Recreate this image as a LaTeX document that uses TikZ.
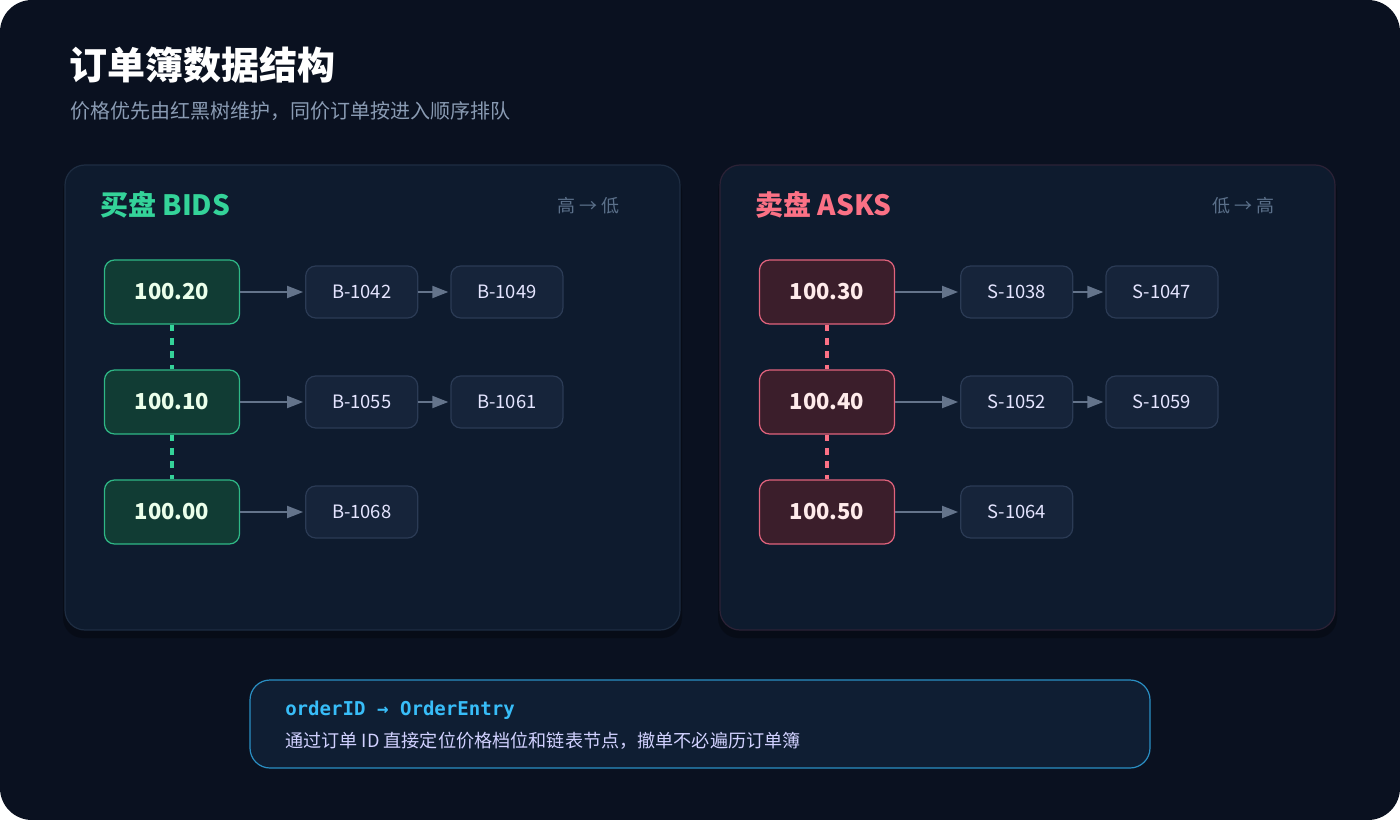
\documentclass[tikz,border=0pt]{standalone}
\usepackage{fontspec}
\setmainfont{Noto Sans CJK SC}
\setmonofont{DejaVu Sans Mono}
\usetikzlibrary{positioning,arrows.meta}

\definecolor{pagebg}{HTML}{0A1120}
\definecolor{panelbg}{HTML}{0E1B2E}
\definecolor{panelline}{HTML}{1E2D42}
\definecolor{askline}{HTML}{2C2236}
\definecolor{orderbg}{HTML}{16243A}
\definecolor{orderline}{HTML}{2B3B55}
\definecolor{bidbg}{HTML}{113C34}
\definecolor{bidline}{HTML}{2FB886}
\definecolor{bidgreen}{HTML}{34D399}
\definecolor{askbg}{HTML}{3B1E2B}
\definecolor{askline2}{HTML}{E0627C}
\definecolor{askpink}{HTML}{FB7185}
\definecolor{linkgray}{HTML}{64748B}
\definecolor{dirgray}{HTML}{5B708A}
\definecolor{subgray}{HTML}{8A9BB3}
\definecolor{notebg}{HTML}{0F1E33}
\definecolor{noteline}{HTML}{2A8FC4}
\definecolor{notesky}{HTML}{38BDF8}

\begin{document}
\begin{tikzpicture}[x=0.75pt,y=-0.75pt,>={Triangle[length=12pt,width=9pt]},node distance=48.75pt,
    price node/.style={rounded corners=7.5pt,minimum width=101.25pt,minimum height=48pt,inner sep=0pt,line width=0.9pt,font=\bfseries\fontsize{16.5}{18}\selectfont},
    bid node/.style={price node,draw=bidline,fill=bidbg,text=green!8!white},
    ask node/.style={price node,draw=askline2,fill=askbg,text=red!8!white},
    order node/.style={rounded corners=7.5pt,minimum width=84pt,minimum height=39pt,inner sep=0pt,line width=0.9pt,draw=orderline,fill=orderbg,text=white!90!blue,font=\fontsize{13.8}{15}\selectfont},
    link/.style={draw,->,color=linkgray,line width=1.5pt,shorten >=1.5pt},
    level dash/.style={draw,-,line width=2.3pt,dash pattern=on 5pt off 5pt},
    panel/.style={rounded corners=15pt,fill=panelbg,line width=0.9pt},
    head text/.style={anchor=west,inner sep=0pt,font=\bfseries\fontsize{21}{24}\selectfont},
    dir text/.style={anchor=east,inner sep=0pt,text=dirgray,font=\fontsize{13.5}{15}\selectfont}]

    \useasboundingbox (0,0) rectangle (1400,820);
    \fill[white] (0,0) rectangle (1400,820);
    \fill[pagebg,rounded corners=24pt] (0,0) rectangle (1400,820);

    % title
    \node[anchor=west,inner sep=0pt,text=white,font=\bfseries\fontsize{28.5}{32}\selectfont] (title) at (69,65) {订单簿数据结构};
    \node[anchor=west,inner sep=0pt,text=subgray,font=\fontsize{15}{17}\selectfont] (subtitle) at (70,111) {价格优先由红黑树维护，同价订单按进入顺序排队};

    % panels
    \fill[black,opacity=0.25,rounded corners=15pt] (63,171) rectangle (682,638);
    \fill[black,opacity=0.25,rounded corners=15pt] (718,171) rectangle (1337,638);
    \draw[panel,draw=panelline] (65,165) rectangle (680,630);
    \draw[panel,draw=askline] (720,165) rectangle (1335,630);

    \node[head text,text=bidgreen] (bidhead) at (100,205) {买盘 BIDS};
    \node[dir text] (biddir) at (620,206) {高 → 低};
    \node[head text,text=askpink] (askhead) at (755,205) {卖盘 ASKS};
    \node[dir text] (askdir) at (1275,206) {低 → 高};

    % bids
    \node[bid node] (b1) at (172,292) {100.20};
    \node[bid node] (b2) at (172,402) {100.10};
    \node[bid node] (b3) at (172,512) {100.00};
    \node[order node] (b1a) [right=of b1] {B-1042};
    \node[order node] (b1b) [right=24pt of b1a] {B-1049};
    \node[order node] (b2a) [right=of b2] {B-1055};
    \node[order node] (b2b) [right=24pt of b2a] {B-1061};
    \node[order node] (b3a) [right=of b3] {B-1068};

    % asks
    \node[ask node] (a1) at (827,292) {100.30};
    \node[ask node] (a2) at (827,402) {100.40};
    \node[ask node] (a3) at (827,512) {100.50};
    \node[order node] (a1a) [right=of a1] {S-1038};
    \node[order node] (a1b) [right=24pt of a1a] {S-1047};
    \node[order node] (a2a) [right=of a2] {S-1052};
    \node[order node] (a2b) [right=24pt of a2a] {S-1059};
    \node[order node] (a3a) [right=of a3] {S-1064};

    \path[every edge/.style={link}]
        (b1) edge (b1a)
        (b1a) edge (b1b)
        (b2) edge (b2a)
        (b2a) edge (b2b)
        (b3) edge (b3a)
        (a1) edge (a1a)
        (a1a) edge (a1b)
        (a2) edge (a2a)
        (a2a) edge (a2b)
        (a3) edge (a3a)
        ;
    \path[every edge/.style={level dash}]
        (b1) edge[bidgreen] (b2)
        (b2) edge[bidgreen] (b3)
        (a1) edge[askpink] (a2)
        (a2) edge[askpink] (a3)
        ;

    % index note
    \draw[fill=notebg,draw=noteline,line width=0.9pt,rounded corners=15pt] (250,680) rectangle (1150,768);
    \node[anchor=west,inner sep=0pt,text=notesky,font=\ttfamily\bfseries\fontsize{14.3}{16}\selectfont] (notekey) at (285,710) {orderID → OrderEntry};
    \node[anchor=west,inner sep=0pt,text=white!82!blue,font=\fontsize{13.6}{15}\selectfont] (notetext) at (285,741) {通过订单 ID 直接定位价格档位和链表节点，撤单不必遍历订单簿};
\end{tikzpicture}
\end{document}
